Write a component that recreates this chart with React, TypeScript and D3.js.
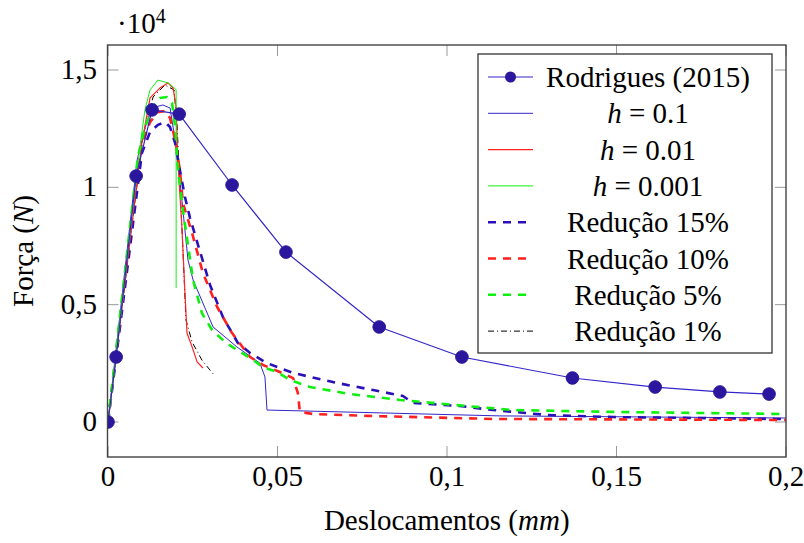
import React from 'react';
import * as d3 from 'd3';

type Pt = [number, number];

// values (x in mm, y in N)
const rodrigues: Pt[] = [
  [0, 0], [0.0024, 2770], [0.0083, 10480], [0.013, 13300], [0.021, 13120],
  [0.0366, 10100], [0.0525, 7240], [0.080, 4050], [0.1044, 2770], [0.137, 1875],
  [0.1614, 1490], [0.1805, 1280], [0.195, 1190],
];

const h01: Pt[] = [
  [0, 0], [0.0086, 11160], [0.0115, 12870], [0.0139, 13420], [0.0162, 13510],
  [0.0183, 13380], [0.0192, 12570], [0.0206, 11160], [0.0221, 9030], [0.0236, 6900],
  [0.0251, 6050], [0.031, 4050], [0.038, 3200], [0.0448, 2510], [0.0463, 1920],
  [0.0469, 510], [0.1156, 260], [0.2, 170],
];

const h001: Pt[] = [
  [0, 0], [0.0100, 11890], [0.0124, 13810], [0.0153, 14230], [0.0177, 14450],
  [0.0192, 14230], [0.0201, 13420], [0.0206, 11160], [0.0218, 8310], [0.0227, 5500],
  [0.0233, 3790], [0.0248, 3200], [0.0263, 2560], [0.028, 2300],
];

const h0001: Pt[] = [
  [0, 0], [0.0094, 11720], [0.0109, 13300], [0.0124, 14150], [0.0147, 14570],
  [0.0177, 14450], [0.0192, 14280], [0.0201, 14150], [0.0201, 5710],
];

const red15: Pt[] = [
  [0, 0], [0.01, 11460], [0.0124, 12360], [0.0147, 12660], [0.0168, 12780],
  [0.0183, 12570], [0.0198, 11890], [0.0212, 10740], [0.0227, 9590], [0.0242, 8690],
  [0.0263, 7670], [0.0301, 5840], [0.0339, 4470], [0.0383, 3370], [0.0419, 2940],
  [0.0469, 2510], [0.0546, 2090], [0.0664, 1700], [0.0782, 1360], [0.087, 1110],
  [0.09, 810], [0.1038, 680], [0.1136, 510], [0.1295, 300], [0.149, 210],
  [0.197, 130], [0.2, 120],
];

const red10: Pt[] = [
  [0, 0], [0.0094, 11590], [0.0124, 12780], [0.0147, 13210], [0.0168, 13250],
  [0.0183, 12950], [0.0198, 12020], [0.0212, 10740], [0.0221, 9330], [0.0248, 8050],
  [0.028, 6350], [0.0322, 4900], [0.0366, 3790], [0.0419, 2770], [0.0457, 2430],
  [0.0507, 2130], [0.0546, 1870], [0.056, 1240], [0.0566, 430], [0.0605, 340],
  [0.0764, 260], [0.1136, 130], [0.2, 85],
];

const red5: Pt[] = [
  [0, 0], [0.0088, 11290], [0.0109, 12570], [0.0133, 13420], [0.0153, 13810],
  [0.0174, 13850], [0.0189, 13590], [0.0198, 12570], [0.0206, 10870], [0.0221, 9030],
  [0.0236, 7540], [0.0251, 6050], [0.0277, 4640], [0.0307, 3920], [0.0345, 3410],
  [0.038, 3070], [0.0419, 2730], [0.0457, 2340], [0.0499, 2130], [0.0537, 1790],
  [0.0596, 1490], [0.0714, 1190], [0.0861, 940], [0.1059, 680], [0.1195, 510],
  [0.149, 430], [0.2, 340],
];

const red1: Pt[] = [
  [0, 0], [0.0103, 12150], [0.0133, 13850], [0.0168, 14360], [0.0195, 14150],
  [0.0204, 12570], [0.0218, 8310], [0.023, 4350], [0.0248, 3410], [0.0277, 2640],
  [0.031, 2050],
];

const xTicks = [0, 0.05, 0.1, 0.15, 0.2];
const xTickLabels = ['0', '0,05', '0,1', '0,15', '0,2'];
const yTicks = [0, 5000, 10000, 15000];
const yTickLabels = ['0', '0,5', '1', '1,5'];

const BLUE = '#3326c8';
const MARK = '#2b169e';
const DBLUE = '#2a10b8';
const RED = '#ff2020';
const GREEN = '#10f010';

interface Series {
  label: React.ReactNode;
  data: Pt[];
  color: string;
  width: number;
  dash?: string;
  marker?: boolean;
}

const series: Series[] = [
  { label: 'Rodrigues (2015)', data: rodrigues, color: BLUE, width: 1.2, marker: true },
  { label: <><tspan fontStyle="italic">h</tspan> = 0.1</>, data: h01, color: BLUE, width: 1 },
  { label: <><tspan fontStyle="italic">h</tspan> = 0.01</>, data: h001, color: RED, width: 1.2 },
  { label: <><tspan fontStyle="italic">h</tspan> = 0.001</>, data: h0001, color: GREEN, width: 1 },
  { label: 'Redução 15%', data: red15, color: DBLUE, width: 2.6, dash: '8,7' },
  { label: 'Redução 10%', data: red10, color: RED, width: 2.6, dash: '8,7' },
  { label: 'Redução 5%', data: red5, color: GREEN, width: 2.6, dash: '8,7' },
  { label: 'Redução 1%', data: red1, color: '#000', width: 1, dash: '6,3,1,3' },
];

const W = 804;
const H = 543;
const left = 107.5, right = 786, top = 45, bottom = 457;
const FONT = '"Liberation Serif", "DejaVu Serif", serif';
const FS = 29;

export default function App() {
  const x = d3.scaleLinear().domain([0, 0.2]).range([108, 786]);
  const y = d3.scaleLinear().domain([0, 15000]).range([422, 70]);
  const line = d3.line<Pt>().x(d => x(d[0])).y(d => y(d[1]));

  // draw order: dash-dot below the thin red, reference on top
  const drawOrder = [series[7], ...series.slice(1, 7), series[0]];

  const legX = 478, legY = 54, legW = 294, legH = 299;
  const rowY0 = 77, rowStep = 36.3;

  return (
    <svg width={W} height={H} style={{ position: 'absolute', left: 0, top: 0, fontFamily: FONT }}
      fontSize={FS}>
      <defs>
        <clipPath id="plot">
          <rect x={left} y={top} width={right - left} height={bottom - top} />
        </clipPath>
      </defs>
      <rect width={W} height={H} fill="#fff" />

      {/* ticks */}
      <g stroke="#999" strokeWidth={1}>
        {xTicks.map(t => (
          <g key={t}>
            <line x1={x(t)} x2={x(t)} y1={bottom} y2={bottom - 11} />
            <line x1={x(t)} x2={x(t)} y1={top} y2={top + 11} />
          </g>
        ))}
        {yTicks.map(t => (
          <g key={t}>
            <line x1={left} x2={left + 11} y1={y(t)} y2={y(t)} />
            <line x1={right} x2={right - 11} y1={y(t)} y2={y(t)} />
          </g>
        ))}
      </g>

      {/* series */}
      <g clipPath="url(#plot)" fill="none">
        {drawOrder.map((s, i) => (
          <path key={i} d={line(s.data) ?? ''} stroke={s.color} strokeWidth={s.width}
            strokeDasharray={s.dash} strokeLinejoin="round" />
        ))}
        {rodrigues.map((d, i) => (
          <circle key={i} cx={x(d[0])} cy={y(d[1])} r={6.3} fill={MARK} stroke={MARK} />
        ))}
      </g>

      {/* axis box */}
      <rect x={left} y={top} width={right - left} height={bottom - top}
        fill="none" stroke="#444" strokeWidth={1.4} />

      {/* tick labels */}
      {xTicks.map((t, i) => (
        <text key={t} x={x(t)} y={486} textAnchor="middle">{xTickLabels[i]}</text>
      ))}
      {yTicks.map((t, i) => (
        <text key={t} x={97} y={y(t) + 9} textAnchor="end">{yTickLabels[i]}</text>
      ))}
      <text x={117} y={33}>·10<tspan fontSize={20} dy={-10}>4</tspan></text>

      {/* axis labels */}
      <text x={(left + right) / 2} y={530} textAnchor="middle">
        Deslocamentos (<tspan fontStyle="italic">mm</tspan>)
      </text>
      <text transform={`translate(33,${(top + bottom) / 2}) rotate(-90)`} textAnchor="middle">
        Força (<tspan fontStyle="italic">N</tspan>)
      </text>

      {/* legend */}
      <rect x={legX} y={legY} width={legW} height={legH} fill="#fff" stroke="#333" strokeWidth={1.3} />
      {series.map((s, i) => {
        const ry = rowY0 + i * rowStep;
        return (
          <g key={i}>
            <line x1={488} x2={533} y1={ry} y2={ry} stroke={s.color} strokeWidth={s.width}
              strokeDasharray={s.dash} />
            {s.marker && <circle cx={510.5} cy={ry} r={5.5} fill={MARK} />}
            <text x={648} y={ry + 10} textAnchor="middle">{s.label}</text>
          </g>
        );
      })}
    </svg>
  );
}
